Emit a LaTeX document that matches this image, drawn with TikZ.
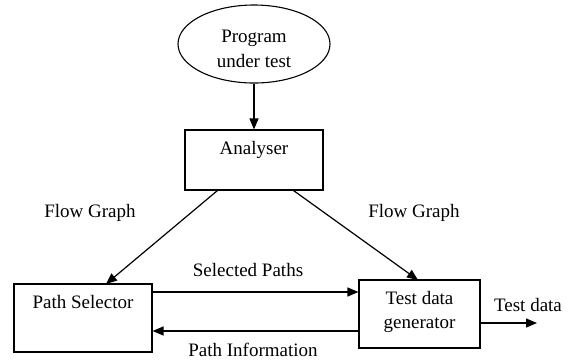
\documentclass[tikz,border=0pt]{standalone}
\usepackage{fontspec}
\setmainfont{Liberation Serif}
\usetikzlibrary{shapes.geometric,arrows.meta}
\begin{document}
\begin{tikzpicture}[x=1pt,y=-1pt,
  lbl/.style={font=\fontsize{19}{24.5}\selectfont, inner sep=0pt, align=center},
  boxed/.style={draw, line width=1.1pt, inner sep=0pt},
  conn/.style={line width=1.2pt, -{Triangle[length=11pt,width=9pt]}}]
\useasboundingbox (0,0) rectangle (576,360);
\node[draw, ellipse, line width=1.1pt, minimum width=152pt, minimum height=78pt, inner sep=0pt] (prog) at (254,44) {};
\node[lbl] (progt) at (254,49) {Program\\under test};
\node[boxed, minimum width=138pt, minimum height=60pt] (an) at (254,160) {};
\node[lbl] (ant) at (254,150) {Analyser};
\node[boxed, minimum width=138pt, minimum height=68pt] (ps) at (83,318) {};
\node[lbl] (pst) at (83,302) {Path Selector};
\node[boxed, minimum width=121pt, minimum height=68pt] (tg) at (419.5,314) {};
\node[lbl] (tgt) at (419.5,312) {Test data\\generator};
\coordinate (out) at (537,323);
\draw[conn] (prog.south) -- (an.north);
\draw[conn] (an.south west) ++(33,0) coordinate (a1) -- (106,284) coordinate (b1);
\draw[conn] (an.south east) ++(-30,0) coordinate (a2) -- (418,280) coordinate (b2);
\draw[conn] (ps.east |- 0,292) -- (tg.west |- 0,292);
\draw[conn] (tg.west |- 0,331) -- (ps.east |- 0,331);
\draw[conn] (tg.east |- 0,323) -- (out);
\node[lbl] (fg1) at (90,213) {Flow Graph};
\node[lbl] (fg2) at (414,213) {Flow Graph};
\node[lbl] (sp) at (248,270) {Selected Paths};
\node[lbl] (pi) at (253,350) {Path Information};
\node[lbl] (td) at (528,305) {Test data};
\end{tikzpicture}
\end{document}
